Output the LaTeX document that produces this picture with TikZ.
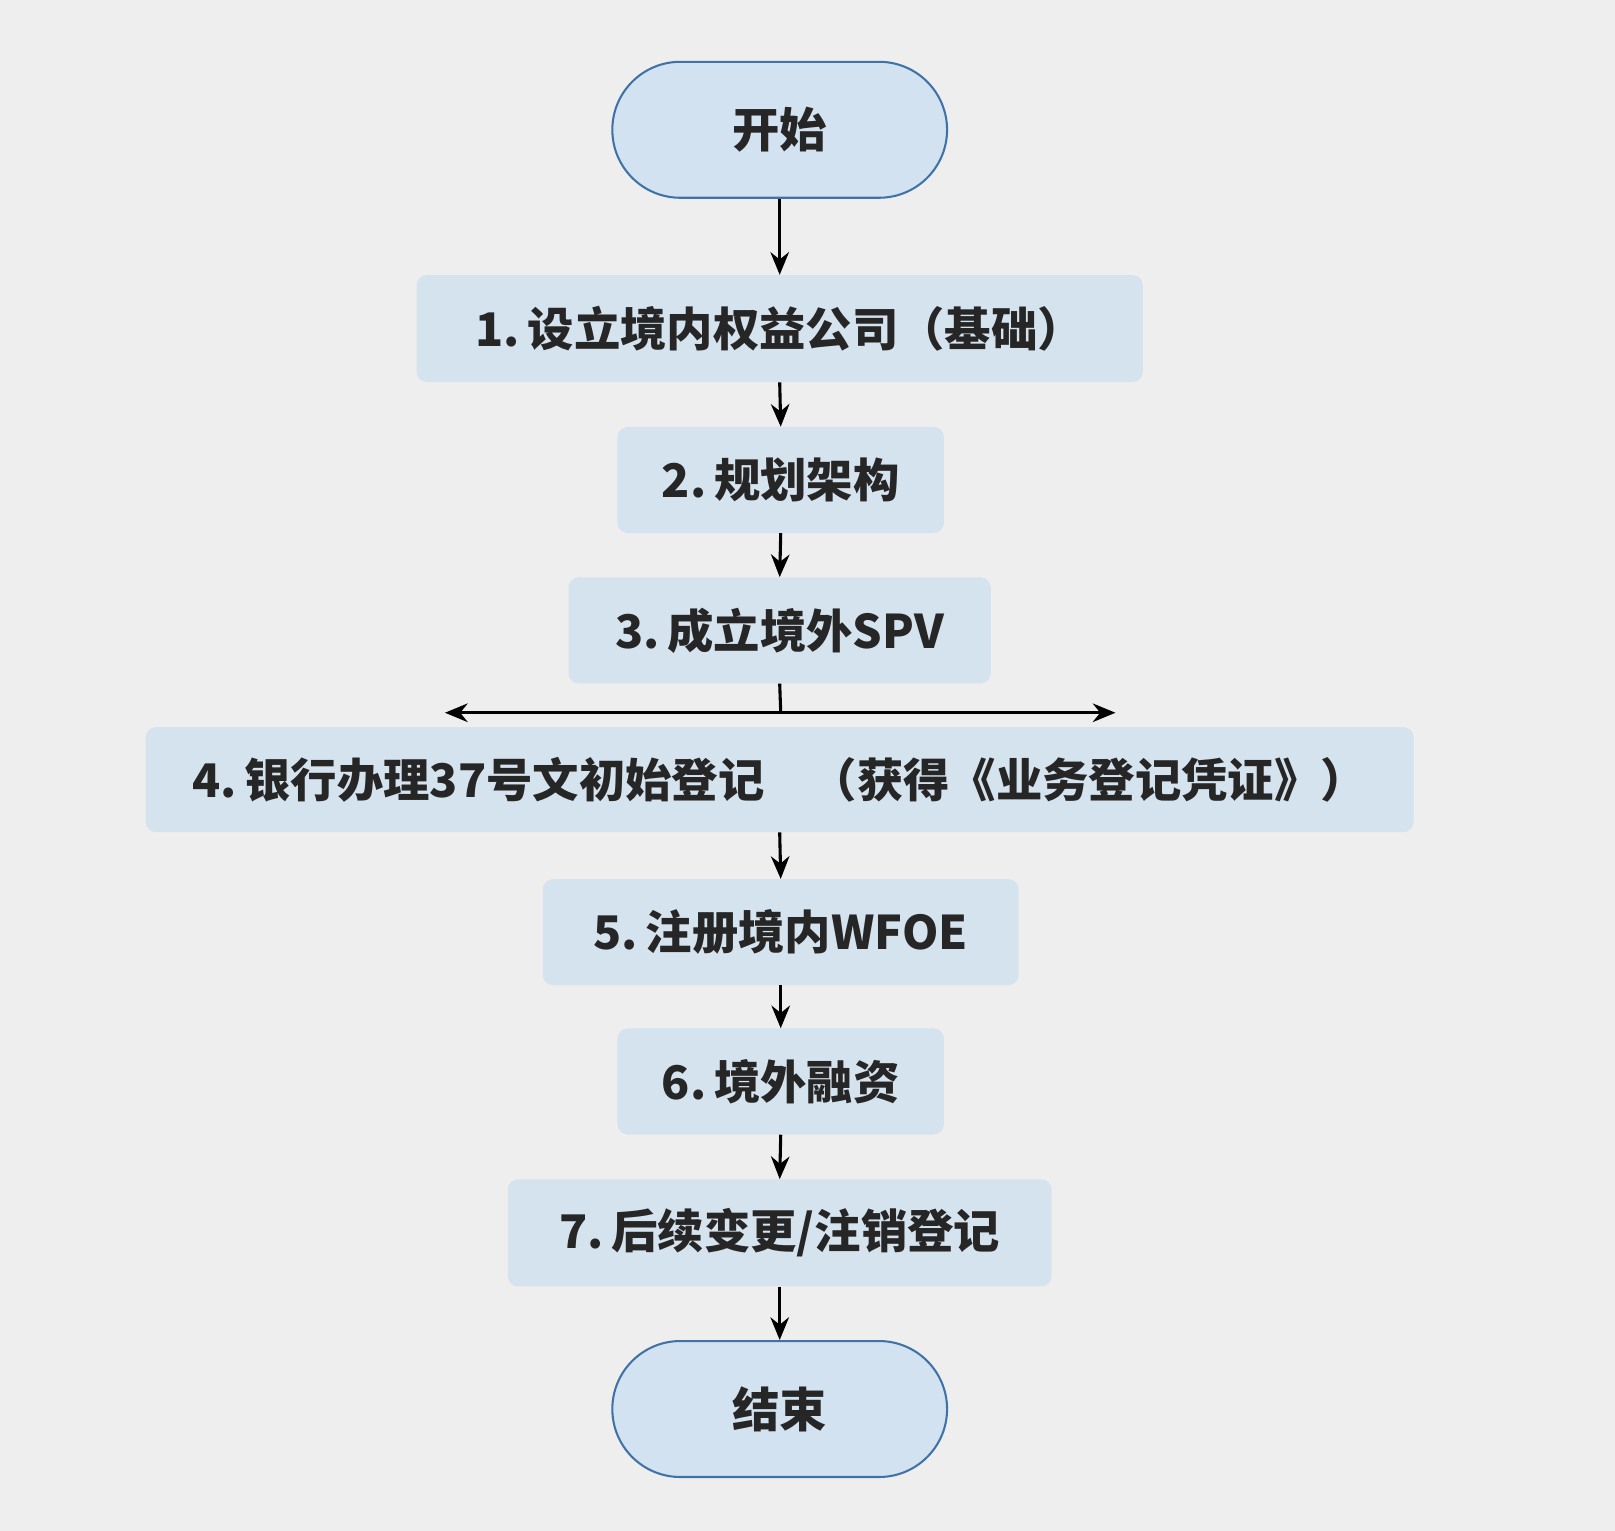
\documentclass[tikz,border=0pt]{standalone}
\usepackage{fontspec}
\setmainfont{Noto Sans CJK SC}
\usetikzlibrary{arrows.meta}
\definecolor{bg}{HTML}{EEEEEE}
\definecolor{boxfill}{HTML}{D5E3EF}
\definecolor{termfill}{HTML}{D3E2F0}
\definecolor{termline}{HTML}{3F73A8}
\begin{document}
\begin{tikzpicture}[x=1pt,y=-1pt,
  stepbox/.style={fill=boxfill,rounded corners=10pt,inner sep=0pt,font=\fontsize{45}{50}\selectfont\bfseries,text=black!85},
  term/.style={fill=termfill,draw=termline,line width=2pt,rounded corners=66pt,minimum width=325pt,minimum height=132pt,inner sep=0pt,font=\fontsize{46}{52}\selectfont\bfseries,text=black!85},
  arr/.style={-{Stealth[length=22pt,width=18pt]},line width=3pt}]
\fill[bg] (0,0) rectangle (1568,1486);
\useasboundingbox (0,0) rectangle (1568,1486);
\node[term] (s) at (757,126) {开始};
\node[stepbox,minimum width=705pt,minimum height=104pt] (b1) at (757,319) {1.\,设立境内权益公司（基础）};
\node[stepbox,minimum width=317pt,minimum height=103pt] (b2) at (758,466) {2.\,规划架构};
\node[stepbox,minimum width=410pt,minimum height=103pt] (b3) at (757,612) {3.\,成立境外SPV};
\node[stepbox,minimum width=1231pt,minimum height=102pt] (b4) at (757,757) {4.\,银行办理37号文初始登记\quad（获得《业务登记凭证》）};
\node[stepbox,minimum width=462pt,minimum height=103pt] (b5) at (758,905) {5.\,注册境内WFOE};
\node[stepbox,minimum width=317pt,minimum height=103pt] (b6) at (758,1050) {6.\,境外融资};
\node[stepbox,minimum width=528pt,minimum height=104pt] (b7) at (757,1197) {7.\,后续变更/注销登记};
\node[term] (e) at (757,1368) {结束};
\coordinate (j) at (758,692);
\coordinate (jl) at (432,692);
\coordinate (jr) at (1083,692);
\draw[arr] (s.south) -- (b1.north);
\draw[arr] (b1.south) -- (b2.north);
\draw[arr] (b2.south) -- (b3.north);
\draw[line width=3pt] (b3.south) -- (j);
\draw[arr] (j) -- (jl);
\draw[arr] (j) -- (jr);
\draw[arr] (b4.south) -- (b5.north);
\draw[arr] (b5.south) -- (b6.north);
\draw[arr] (b6.south) -- (b7.north);
\draw[arr] (b7.south) -- (e.north);
\end{tikzpicture}
\end{document}
